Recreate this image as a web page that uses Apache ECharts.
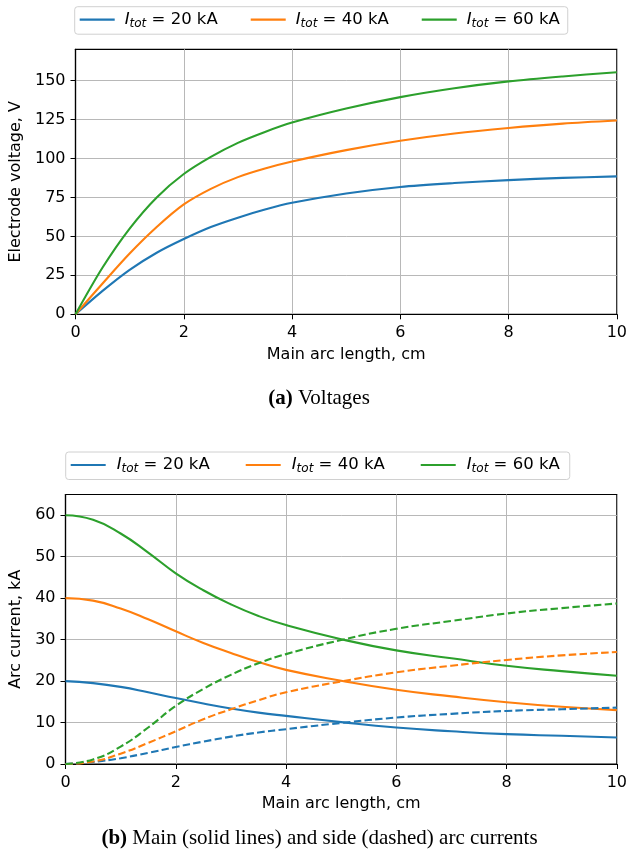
<!DOCTYPE html>
<html>
<head>
<meta charset="utf-8">
<script src="https://cdn.jsdelivr.net/npm/echarts@6/dist/echarts.min.js"></script>
<style>
  html, body { margin: 0; padding: 0; background: #fff; }
  #chart { width: 630px; height: 861px; }
</style>
</head>
<body>
<div id="chart"></div>
<script>
// Sample positions along the main arc (cm)
const arcLength = [0, 0.5, 1, 1.5, 2, 2.5, 3, 3.5, 4, 5, 6, 7, 8, 9, 10];

// Total currents (kA)
const totals = [20, 40, 60];

// Electrode voltage (V)
const voltage20 = [0, 15, 28.5, 39.5, 48.3, 56, 62, 67.2, 71.5, 77.5, 81.7, 84.2, 86.1, 87.5, 88.5];
const voltage40 = [0, 19.8, 39, 56, 70.5, 80.5, 88, 93.5, 98, 105.3, 111.3, 116, 119.5, 122.3, 124.3];
const voltage60 = [0, 30, 55, 75, 90, 101, 110, 117, 123, 132, 139.3, 145, 149.4, 152.6, 155.3];

// Main arc current (kA)
const main20 = [20, 19.5, 18.6, 17.3, 15.9, 14.6, 13.4, 12.4, 11.6, 10.1, 8.8, 7.9, 7.2, 6.8, 6.4];
const main40 = [40, 39.4, 37.5, 34.9, 32.0, 29.2, 26.8, 24.6, 22.7, 20.1, 17.9, 16.3, 14.9, 13.8, 13.0];
const main60 = [60, 58.9, 55.6, 51.0, 46.0, 41.9, 38.5, 35.7, 33.5, 30.1, 27.4, 25.5, 23.7, 22.4, 21.3];

// Side arc current (kA)
const side20 = [0, 0.5, 1.4, 2.7, 4.1, 5.4, 6.6, 7.6, 8.4, 9.9, 11.2, 12.1, 12.8, 13.2, 13.6];
const side40 = [0, 0.6, 2.5, 5.1, 7.9, 10.8, 13.2, 15.4, 17.3, 19.9, 22.1, 23.7, 25.1, 26.2, 27.0];
const side60 = [0, 1.1, 4.2, 8.8, 14.0, 18.1, 21.5, 24.3, 26.5, 29.9, 32.6, 34.5, 36.3, 37.6, 38.7];

// Tick values
const xTicks = [0, 2, 4, 6, 8, 10];
const voltageTicks = [0, 25, 50, 75, 100, 125, 150];
const currentTicks = [0, 10, 20, 30, 40, 50, 60];

const colors = ['#1f77b4', '#ff7f0e', '#2ca02c'];
const sans = 'DejaVu Sans';
const serif = 'Liberation Serif';
const fs = 16;     // axis text
const lfs = 16.5;  // legend text

const names = totals.map(t => 'I_tot = ' + t + ' kA');
const pairs = ys => ys.map((y, i) => [arcLength[i], y]);

const chart = echarts.init(document.getElementById('chart'), null, { renderer: 'canvas' });

function xAxisFor(gridIndex, nameGap) {
  return {
    type: 'value', gridIndex, min: 0, max: 10, interval: 2,
    name: 'Main arc length, cm', nameLocation: 'middle', nameGap,
    nameTextStyle: { fontFamily: sans, fontSize: fs, color: '#000' },
    axisLine: { show: true, onZero: false, lineStyle: { color: '#000', width: 1.2 } },
    axisTick: { show: true, inside: false, length: 5, customValues: xTicks, lineStyle: { color: '#000', width: 1 } },
    axisLabel: { fontFamily: sans, fontSize: fs, color: '#000', margin: 10.5, customValues: xTicks },
    splitLine: { show: true, lineStyle: { color: '#b8b8b8', width: 1 } }
  };
}

function yAxisFor(gridIndex, max, interval, ticks, name, nameGap) {
  return {
    type: 'value', gridIndex, min: 0, max, interval,
    name, nameLocation: 'middle', nameGap,
    nameTextStyle: { fontFamily: sans, fontSize: fs, color: '#000' },
    axisLine: { show: true, onZero: false, lineStyle: { color: '#000', width: 1.2 } },
    axisTick: { show: true, inside: false, length: 5, customValues: ticks, lineStyle: { color: '#000', width: 1 } },
    axisLabel: { fontFamily: sans, fontSize: fs, color: '#000', margin: 10, customValues: ticks },
    splitLine: { show: true, lineStyle: { color: '#b8b8b8', width: 1 } }
  };
}

function legendAt(left, top, gap, textGap, rightPad) {
  return {
    left, top, orient: 'horizontal',
    data: names,
    icon: 'path://M0,0 L35,0 L35,2.2 L0,2.2 Z',
    itemWidth: 35, itemHeight: 2.2, itemGap: gap,
    padding: [4.5, rightPad, 4.5, 5],
    backgroundColor: '#fff',
    borderColor: '#d0d0d0', borderWidth: 1, borderRadius: 3,
    textStyle: {
      fontFamily: sans, fontSize: lfs, color: '#000', padding: [0, 0, 0, textGap],
      rich: {
        i: { fontFamily: sans, fontSize: lfs, fontStyle: 'italic', lineHeight: 20, verticalAlign: 'middle', color: '#000' },
        s: { fontFamily: sans, fontSize: 12, fontStyle: 'italic', lineHeight: 11.5, verticalAlign: 'bottom', color: '#000' },
        t: { fontFamily: sans, fontSize: lfs, lineHeight: 20, verticalAlign: 'middle', color: '#000' }
      }
    },
    formatter: n => '{i|I}{s|tot}{t| ' + n.replace('I_tot ', '') + '}'
  };
}

const series = [];
[voltage20, voltage40, voltage60].forEach((ys, k) => {
  series.push({
    type: 'line', symbol: 'none', smooth: 0.3,
    name: names[k], xAxisIndex: 0, yAxisIndex: 0, data: pairs(ys),
    lineStyle: { color: colors[k], width: 2.1 }, itemStyle: { color: colors[k] }
  });
});
[main20, main40, main60].forEach((ys, k) => {
  series.push({
    type: 'line', symbol: 'none', smooth: 0.5,
    name: names[k], xAxisIndex: 1, yAxisIndex: 1, data: pairs(ys),
    lineStyle: { color: colors[k], width: 2.1 }, itemStyle: { color: colors[k] }
  });
});
[side20, side40, side60].forEach((ys, k) => {
  series.push({
    type: 'line', symbol: 'none', smooth: 0.5,
    name: 'side ' + totals[k] + ' kA', xAxisIndex: 1, yAxisIndex: 1, data: pairs(ys),
    lineStyle: { color: colors[k], width: 2.1, type: [7.5, 3.3] }, itemStyle: { color: colors[k] }
  });
});

const captionStyle = {
  fontFamily: serif, fontSize: 21, fontWeight: 'normal', color: '#000',
  rich: { b: { fontFamily: serif, fontSize: 21, fontWeight: 'bold', color: '#000' } }
};

chart.setOption({
  animation: false,
  backgroundColor: '#fff',
  grid: [
    { left: 75.5, right: 11.3, top: 49.3, height: 265, show: true, borderColor: '#000', borderWidth: 1.2, backgroundColor: 'transparent' },
    { left: 65.5, right: 11.3, top: 494.5, height: 269.5, show: true, borderColor: '#000', borderWidth: 1.2, backgroundColor: 'transparent' }
  ],
  xAxis: [xAxisFor(0, 33), xAxisFor(1, 32)],
  yAxis: [
    yAxisFor(0, 170, 25, voltageTicks, 'Electrode voltage, V', 49),
    yAxisFor(1, 65, 10, currentTicks, 'Arc current, kA', 40)
  ],
  legend: [legendAt(74.7, 6.7, 33, 5, 8), legendAt(65.7, 452, 36, 6, 10)],
  title: [
    { text: '{b|(a)} Voltages', left: 314, top: 383, textAlign: 'center', textStyle: captionStyle },
    { text: '{b|(b)} Main (solid lines) and side (dashed) arc currents', left: 314.5, top: 823, textAlign: 'center', textStyle: captionStyle }
  ],
  series
});
</script>
</body>
</html>
